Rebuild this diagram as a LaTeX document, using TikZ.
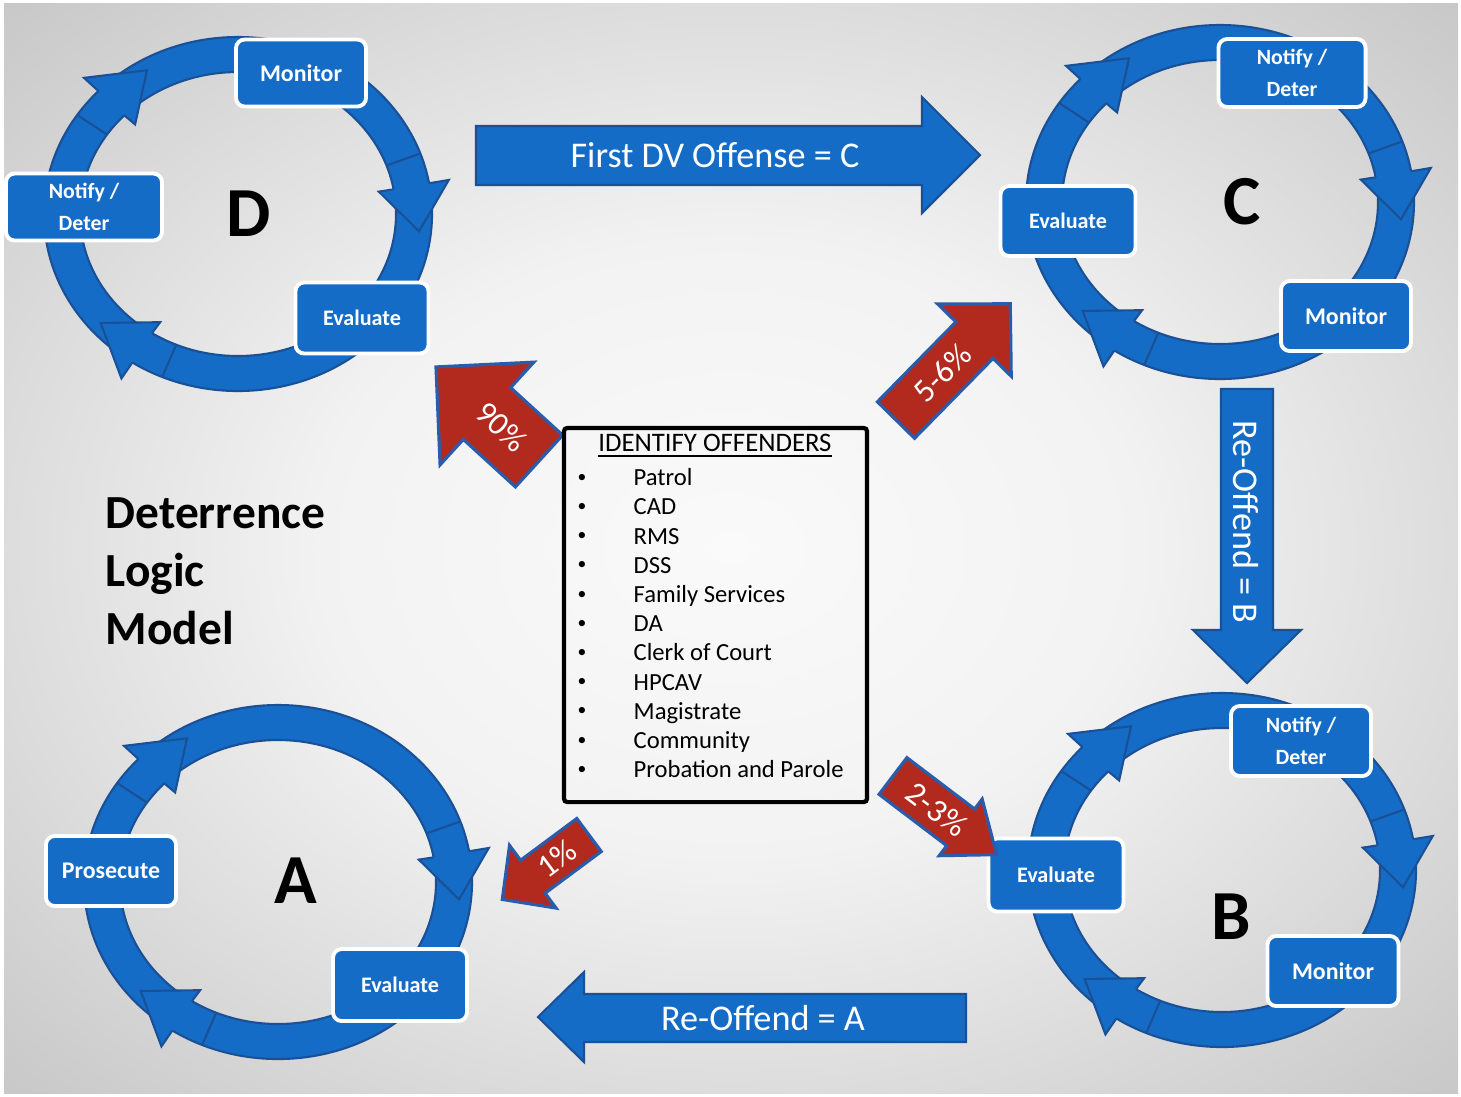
\documentclass[tikz,border=0pt]{standalone}
\usepackage{fontspec}
\setmainfont{Carlito}
\usepackage{tikz}
\usepackage{xcolor}

\definecolor{ringblue}{RGB}{21,108,198}
\definecolor{ringedge}{RGB}{26,80,150}
\definecolor{offred}{RGB}{178,42,30}
\definecolor{redrim}{RGB}{42,92,172}
\pgfdeclareradialshading{slidebg}{\pgfpoint{0bp}{0bp}}{color(0bp)=(white!98!black); color(14bp)=(white!95!black); color(50bp)=(white!67!black); color(72bp)=(white!58!black)}

\begin{document}
\begin{tikzpicture}[x=0.01cm,y=-0.01cm,
  cyclebox/.style={draw=white, line width=1.1pt, fill=ringblue, rounded corners=2.5pt, text=white, inner sep=0pt, align=center, font=\bfseries\fontsize{6.8}{8}\selectfont},
  evalbox/.style={cyclebox, font=\bfseries\fontsize{6.3}{8}\selectfont},
  notebox/.style={cyclebox, font=\bfseries\fontsize{6.2}{9.3}\selectfont},
  cycleletter/.style={font=\bfseries\fontsize{20}{24}\selectfont, inner sep=0pt},
  bigarrow/.style={fill=ringblue, draw=ringedge, line width=0.6pt},
  arrowtxt/.style={text=white, font=\fontsize{10.3}{12}\selectfont, inner sep=0pt},
  redarrow/.style={fill=offred, draw=redrim, line width=0.9pt, line join=miter},
  pcttxt/.style={text=white, font=\fontsize{9.3}{10}\selectfont, inner sep=0pt},
  listtxt/.style={font=\fontsize{7}{8}\selectfont, inner sep=0pt}]
\useasboundingbox (0,0) rectangle (1461,1096);
\fill[white] (0,0) rectangle (1461,1096);
\shade[shading=slidebg] (4,3) rectangle (1458,1093);

% the four cycles, clockwise
\foreach \cx/\cy in {238/214, 1220/202, 278/882, 1222/870}{
  \begin{scope}[shift={(\cx,\cy)}]
    \filldraw[ringblue, draw=ringedge, line width=0.6pt, even odd rule] (0,0) ellipse (194 and 177) (0,0) ellipse (158 and 142);
    \foreach \w in {350,123,224}{
      \draw[ringedge, line width=0.6pt] (\w-10:158 and 142) -- (\w-10:194 and 177);
      \fill[ringblue] (\w:143 and 129) -- (\w+16:182 and 166) -- (\w:214 and 196) -- cycle;
      \draw[ringedge, line width=0.6pt, line join=miter] (\w:158 and 142) -- (\w:143 and 129) -- (\w+16:182 and 166) -- (\w:214 and 196) -- (\w:194 and 177);
    }
  \end{scope}
}

% cycle D
\node[cyclebox, minimum width=1.30cm, minimum height=0.67cm] (dMon) at (301,73) {Monitor};
\node[notebox, minimum width=1.56cm, minimum height=0.67cm] (dNot) at (84,207) {Notify /\\Deter};
\node[evalbox, minimum width=1.33cm, minimum height=0.71cm] (dEva) at (362,318) {Evaluate};
\node[cycleletter] (lD) at (249,214) {D};

% cycle C
\node[notebox, minimum width=1.47cm, minimum height=0.68cm] (cNot) at (1292,73) {Notify /\\Deter};
\node[evalbox, minimum width=1.35cm, minimum height=0.70cm] (cEva) at (1068,221) {Evaluate};
\node[cyclebox, minimum width=1.30cm, minimum height=0.70cm] (cMon) at (1346,316) {Monitor};
\node[cycleletter] (lC) at (1242,202) {C};

% cycle A
\node[cyclebox, minimum width=1.30cm, minimum height=0.70cm] (aPro) at (111,871) {Prosecute};
\node[evalbox, minimum width=1.34cm, minimum height=0.72cm] (aEva) at (400,985) {Evaluate};
\node[cycleletter] (lA) at (296,881) {A};

% cycle B
\node[notebox, minimum width=1.40cm, minimum height=0.70cm] (bNot) at (1301,741) {Notify /\\Deter};
\node[evalbox, minimum width=1.35cm, minimum height=0.73cm] (bEva) at (1056,875) {Evaluate};
\node[cyclebox, minimum width=1.31cm, minimum height=0.70cm] (bMon) at (1333,971) {Monitor};
\node[cycleletter] (lB) at (1231,917) {B};

% big blue arrows
\draw[bigarrow] (476,126) -- (922,126) -- (922,97) -- (980,155) -- (922,213) -- (922,185) -- (476,185) -- cycle;
\node[arrowtxt] (firstTxt) at (715,155) {First DV Offense = C};
\draw[bigarrow] (1221,389) -- (1273,389) -- (1273,630) -- (1301,630) -- (1247,683) -- (1193,630) -- (1221,630) -- cycle;
\node[arrowtxt, rotate=-90] (reBTxt) at (1246,522) {Re-Offend = B};
\draw[bigarrow] (966,994) -- (584,994) -- (584,972) -- (538,1017) -- (584,1062) -- (584,1042) -- (966,1042) -- cycle;
\node[arrowtxt] (reATxt) at (763,1018) {Re-Offend = A};

% red percentage arrows
\foreach \px/\py/\ang/\len/\hl/\bw/\hw/\tp/\trot/\nm/\lab in {
  539/461/137.6/139.5/69/35/69.5/51/-42.4/pctD/90\%,
  896/420/45.5/163/51/26/51.5/66/45.5/pctC/5-6\%,
  589/835/216.6/108/38/20.5/39/40/36.6/pctA/1\%,
  893/776/-37.2/130/45/23/35.5/55/-37.2/pctB/2-3\%}{
  \begin{scope}[shift={(\px,\py)}, rotate=\ang]
    \draw[redarrow] (0,-\bw) -- (\len-\hl,-\bw) -- (\len-\hl,-\hw) -- (\len,0) -- (\len-\hl,\hw) -- (\len-\hl,\bw) -- (0,\bw) -- cycle;
    \node[pcttxt, rotate=\trot] (\nm) at (\tp,0) {\lab};
  \end{scope}
}

% identify offenders list
\node[draw, line width=1.2pt, rounded corners=1pt, minimum width=3.03cm, minimum height=3.74cm] (idBox) at (715.5,615) {};
\node[listtxt, font=\fontsize{7.6}{9}\selectfont] (idHead) at (715,446) {\underline{IDENTIFY OFFENDERS}};
\foreach \src [count=\i] in {Patrol, CAD, RMS, DSS, Family Services, DA, Clerk of Court, HPCAV, Magistrate, Community, Probation and Parole}{
  \node[listtxt, font=\fontsize{5}{6}\selectfont] (dot\i) at (582,{449+29.2*\i}) {\textbullet};
  \node[listtxt, anchor=base west] (item\i) at (633,{456.5+29.2*\i}) {\src};
}

\node[anchor=west, align=left, inner sep=0pt, font=\bfseries\fontsize{13.5}{16.5}\selectfont] (title) at (105,571) {Deterrence\\Logic\\Model};
\end{tikzpicture}
\end{document}
